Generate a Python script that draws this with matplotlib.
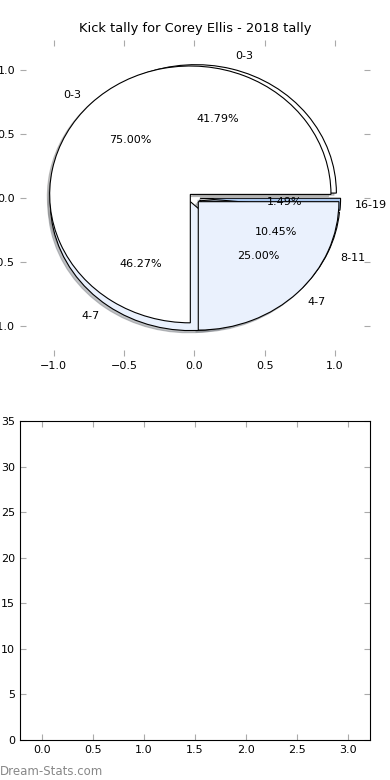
import matplotlib
matplotlib.use('Agg')
import matplotlib.pyplot as plt

# kick tally data
labels_2018 = ['0-3', '4-7']
share_2018 = [75.0, 25.0]
labels_career = ['0-3', '4-7', '8-11', '16-19']
share_career = [41.79, 46.27, 10.45, 1.49]

colors = ['white', '#eaf1fd', '#d4e3f8', '#a9c7ef']
shadow_style = {'ox': -0.012, 'oy': -0.012, 'shade': 0.45}

fig = plt.figure(figsize=(3.9, 7.8), dpi=100)

ax1 = fig.add_axes([0.051, 0.5436, 0.898, 0.405])
ax1.pie(share_career, labels=labels_career, colors=colors, autopct='%1.2f%%',
        explode=[0.04] * len(share_career), shadow=shadow_style,
        wedgeprops={'edgecolor': 'black', 'linewidth': 0.8},
        textprops={'fontsize': 8})
ax1.pie(share_2018, labels=labels_2018, colors=colors, autopct='%1.2f%%',
        explode=[0.04] * len(share_2018), shadow=shadow_style,
        wedgeprops={'edgecolor': 'black', 'linewidth': 0.8},
        textprops={'fontsize': 8})
ax1.set_aspect('auto')
ax1.set_xlim(-1.24, 1.25)
ax1.set_ylim(-1.23, 1.23)
ax1.set_xticks([-1.0, -0.5, 0.0, 0.5, 1.0])
ax1.set_yticks([-1.0, -0.5, 0.0, 0.5, 1.0])
ax1.tick_params(direction='in', top=True, right=True, color='#aaaaaa',
                labelsize=8, length=4)
ax1.set_title('Kick tally for Corey Ellis - 2018 tally', fontsize=9.4)

ax2 = fig.add_axes([0.051, 0.0513, 0.898, 0.409])
ax2.set_xlim(-0.22, 3.22)
ax2.set_ylim(0, 35)
ax2.set_xticks([0.0, 0.5, 1.0, 1.5, 2.0, 2.5, 3.0])
ax2.tick_params(direction='in', top=True, right=True, color='#aaaaaa',
                labelsize=8, length=4)

fig.text(0.0, 0.006, 'Dream-Stats.com', fontsize=8.5, color='#888888')

fig.savefig('out.png', dpi=100)
